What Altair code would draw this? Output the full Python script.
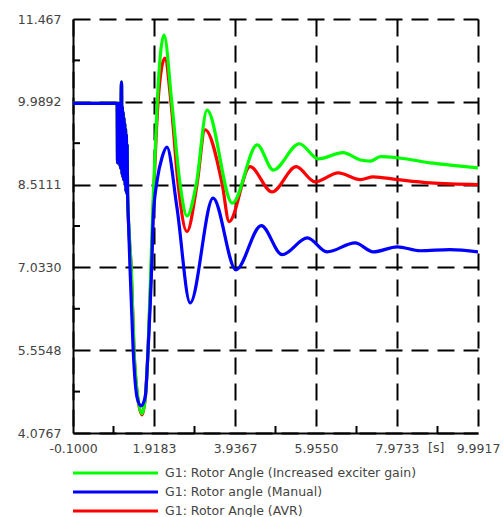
import altair as alt
import pandas as pd

series_names = [
    "G1: Rotor Angle (Increased exciter gain)",
    "G1: Rotor angle (Manual)",
    "G1: Rotor Angle (AVR)",
]
series_colors = ["#00ff00", "#0000ff", "#ff0000"]

x_ticks = [-0.1, 1.9183, 3.9367, 5.955, 7.9733, 9.9917]
y_ticks = [4.0767, 5.5548, 7.033, 8.5111, 9.9892, 11.467]
x_minor = [0.9092, 2.9275, 4.9458, 6.9642, 8.9825]
y_minor = [4.8158, 6.2939, 7.7721, 9.2502, 10.7281]

# pre-fault steady state (shared by all three runs)
prefault_t = [-0.1, 0.99]
prefault_v = [9.96, 9.96]

# fault-switching chatter (shared, read from the dense block around t = 1.0 .. 1.27)
chatter_t = [1.00, 1.01, 1.02, 1.03, 1.04, 1.05, 1.06, 1.07, 1.08, 1.09, 1.10, 1.11, 1.12, 1.13,
             1.14, 1.15, 1.16, 1.17, 1.18, 1.19, 1.20, 1.21, 1.22, 1.23, 1.24, 1.25, 1.26]
chatter_v = [9.96, 8.90, 9.96, 8.90, 9.96, 8.90, 9.96, 8.85, 9.96, 8.80, 10.10, 10.34, 8.70, 9.90,
             8.65, 9.80, 8.60, 9.70, 8.60, 9.60, 8.50, 9.50, 8.40, 9.40, 8.35, 9.20, 8.35]

time_gain = [1.30, 1.35, 1.42, 1.50, 1.62, 1.70, 1.77, 1.84, 1.90, 2.00, 2.08, 2.17, 2.36, 2.57, 2.74,
             2.97, 3.24, 3.87, 4.49, 4.89, 5.54, 6.01, 6.63, 7.06, 7.31, 7.56, 7.98, 8.80, 9.30, 9.9917]
angle_gain = [7.65, 7.03, 5.55, 4.80, 4.42, 4.70, 5.55, 7.03, 8.30, 9.99, 10.85, 11.18, 9.99, 8.51, 7.95,
              8.51, 9.84, 8.18, 9.22, 8.77, 9.24, 8.97, 9.08, 8.95, 8.93, 9.01, 8.99, 8.90, 8.86, 8.81]

time_manual = [1.28, 1.32, 1.40, 1.50, 1.60, 1.70, 1.77, 1.86, 1.90, 2.00, 2.12, 2.24, 2.49, 2.82, 3.39,
               3.96, 4.59, 5.11, 5.74, 6.23, 6.93, 7.38, 7.98, 8.55, 9.30, 9.9917]
angle_manual = [7.90, 7.03, 5.55, 4.70, 4.56, 4.72, 5.55, 7.03, 7.94, 8.60, 9.00, 9.18, 8.10, 6.40, 8.27,
                6.99, 7.78, 7.26, 7.56, 7.31, 7.47, 7.31, 7.40, 7.33, 7.35, 7.31]

time_avr = [1.30, 1.35, 1.42, 1.50, 1.62, 1.70, 1.77, 1.85, 1.91, 2.02, 2.11, 2.19, 2.34, 2.52, 2.74,
            2.99, 3.19, 3.62, 3.79, 4.31, 4.86, 5.46, 5.93, 6.51, 7.06, 7.38, 7.98, 8.80, 9.9917]
angle_avr = [7.60, 7.03, 5.55, 4.78, 4.40, 4.70, 5.55, 7.03, 8.30, 9.99, 10.60, 10.77, 9.99, 8.51, 7.67,
             8.51, 9.49, 8.51, 7.85, 8.83, 8.38, 8.83, 8.56, 8.72, 8.60, 8.65, 8.60, 8.54, 8.51]

unit_label = "[s]"
unit_pos = 8.95

frames = []
for name, ts, vs in [
    (series_names[0], time_gain, angle_gain),
    (series_names[1], time_manual, angle_manual),
    (series_names[2], time_avr, angle_avr),
]:
    frames.append(pd.DataFrame({
        "t": prefault_t + chatter_t + ts,
        "v": prefault_v + chatter_v + vs,
        "series": name,
    }))
df = pd.concat(frames, ignore_index=True)

FONT = "DejaVu Sans"
LABEL_COLOR = "#444444"

x_enc = alt.X(
    "t:Q",
    scale=alt.Scale(domain=[-0.1, 9.9917], nice=False, zero=False),
    axis=alt.Axis(
        values=x_ticks, title=None, grid=True, ticks=False, tickSize=0,
        labelExpr="datum.value < 0 ? '-' + format(-datum.value, '.4f') : format(datum.value, '.4f')",
        domainColor="black", domainWidth=2, gridColor="black", gridDash=[17, 9], gridWidth=2,
        labelFont=FONT, labelFontSize=12.5, labelColor=LABEL_COLOR, labelPadding=9,
        labelFlush=False, labelOverlap=False,
    ),
)
y_enc = alt.Y(
    "v:Q",
    scale=alt.Scale(domain=[4.0767, 11.467], nice=False, zero=False),
    axis=alt.Axis(
        values=y_ticks, title=None, grid=True, ticks=False, tickSize=0, format=".5r",
        domainColor="black", domainWidth=2, gridColor="black", gridDash=[17, 9], gridWidth=2,
        labelFont=FONT, labelFontSize=12.5, labelColor=LABEL_COLOR, labelPadding=12,
        labelFlush=False, labelOverlap=False,
    ),
)
color_enc = alt.Color(
    "series:N",
    scale=alt.Scale(domain=series_names, range=series_colors),
    title=None,
    legend=alt.Legend(
        orient="none", legendX=-6.5, legendY=447.5, direction="vertical",
        symbolType="M0,0H17", symbolSize=100, symbolStrokeWidth=3, labelOffset=85.5,
        labelFont=FONT, labelFontSize=12.5, labelColor=LABEL_COLOR, rowPadding=6,
        padding=0, labelLimit=400,
    ),
)

base = alt.Chart(df)
layers = []
for name in [series_names[2], series_names[0], series_names[1]]:
    layers.append(
        base.transform_filter(alt.datum.series == name)
        .mark_line(strokeWidth=3.2, interpolate="monotone", clip=True)
        .encode(x=x_enc, y=y_enc, color=color_enc)
    )

xminor = alt.Chart(pd.DataFrame({"t": x_minor})).mark_rule(color="black", strokeWidth=2).encode(
    x=x_enc, y=alt.value(414), y2=alt.value(407)
)
yminor = alt.Chart(pd.DataFrame({"v": y_minor})).mark_rule(color="black", strokeWidth=2).encode(
    y=y_enc, x=alt.value(0), x2=alt.value(7)
)
unit = alt.Chart(pd.DataFrame({"t": [unit_pos], "label": [unit_label]})).mark_text(
    font=FONT, fontSize=12.5, color=LABEL_COLOR, baseline="top"
).encode(x=x_enc, y=alt.value(423), text="label:N")

chart = alt.layer(*layers, xminor, yminor, unit).properties(
    width=405, height=414,
    autosize=alt.AutoSizeParams(type="none"),
    padding={"left": 73, "top": 19, "right": 25, "bottom": 84},
    background="white",
).configure_view(strokeWidth=0)

chart.save("out.html", embed_options={"renderer": "svg", "actions": False})
